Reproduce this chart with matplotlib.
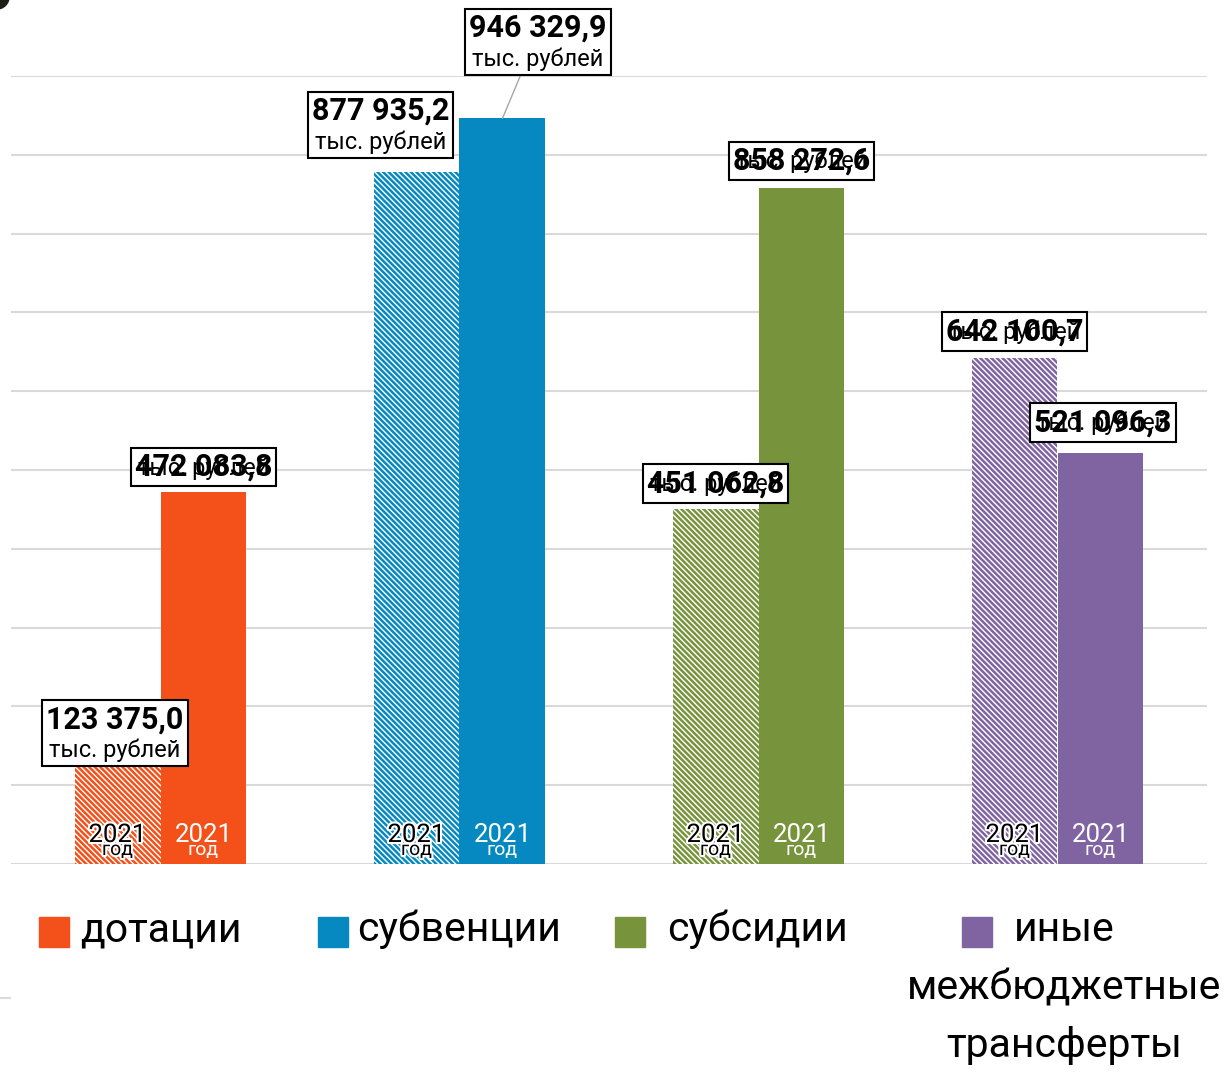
import numpy as np
import matplotlib
matplotlib.use("Agg")
import matplotlib.pyplot as plt
from matplotlib import patches, transforms
from matplotlib.offsetbox import TextArea, VPacker, AnnotationBbox
import matplotlib.patheffects as pe

plt.rcParams['font.family'] = ['Roboto', 'DejaVu Sans']
plt.rcParams['hatch.linewidth'] = 1.8

# ---- data ----
categories = ["дотации", "субвенции", "субсидии", "иные\nмежбюджетные\nтрансферты"]
values_prev = [123375.0, 877935.2, 451062.8, 642100.7]   # hatched bars
values_curr = [472083.8, 946329.9, 858272.6, 521096.3]   # solid bars
year_labels = ["2021", "2021"]
year_word = "год"
unit_label = "тыс. рублей"
colors = ["#F4511A", "#0589C0", "#77933C", "#8064A2"]

W, H = 1226, 1078
fig = plt.figure(figsize=(W / 100, H / 100), dpi=100)
ax = fig.add_axes([11 / W, 1 - 864 / H, 1196 / W, 788 / H])

x = np.arange(len(categories))
bw = 0.2876
ymax = 1_000_000

for i in range(len(categories)):
    ax.bar(x[i] - bw / 2, values_prev[i], bw, facecolor="white", edgecolor=colors[i],
           hatch="\\" * 6, linewidth=0, zorder=2)
    ax.bar(x[i] + bw / 2, values_curr[i], bw, color=colors[i], linewidth=0, zorder=2)

ax.set_xlim(-0.5, len(categories) - 0.5)
ax.set_ylim(0, ymax)
ax.set_yticks(np.arange(0, ymax + 1, 100000))
ax.set_xticks([])
ax.tick_params(left=False, labelleft=False)
ax.yaxis.grid(True, color="#D9D9D9", linewidth=1.5)
ax.set_axisbelow(True)
for s in ax.spines.values():
    s.set_visible(False)


def offs(dx, dy):
    return transforms.offset_copy(ax.transData, fig=fig, x=dx, y=dy, units="dots")


def fmt(v):
    return f"{v:,.1f}".replace(",", " ").replace(".", ",")


# year labels inside bars
glow = [pe.withStroke(linewidth=3, foreground="white")]
for i in range(len(categories)):
    for xpos, col, eff, yl in ((x[i] - bw / 2, "black", glow, year_labels[0]),
                              (x[i] + bw / 2, "white", None, year_labels[1])):
        ax.text(xpos, 0, yl, transform=offs(0, 22), ha="center", va="baseline",
                fontsize=18.5, color=col, path_effects=eff, zorder=3)
        ax.text(xpos, 0, year_word, transform=offs(0, 9), ha="center", va="baseline",
                fontsize=14, color=col, path_effects=eff, zorder=3)

# value labels
off_prev = [(-2.5, 33.5), (-36, 47.5), (0, 25), (0, 26.5)]
off_curr = [(0, 25), (35.5, 76.5), (0, 27), (2.5, 31)]
stack_prev = [True, True, False, False]
stack_curr = [False, True, False, False]

bold = dict(fontsize=22, fontweight="bold", color="black")
norm = dict(fontsize=17, color="black")


def label(xpos, val, off, stacked):
    dx, dy = off
    if stacked:
        box = VPacker(children=[TextArea(fmt(val), textprops=bold),
                                TextArea(unit_label, textprops=norm)],
                      align="center", pad=0, sep=3)
        pad = 0.35
    else:
        box = TextArea(fmt(val), textprops=bold)
        pad = 0.25
    ab = AnnotationBbox(box, (xpos, val), xybox=(xpos, val), xycoords="data",
                        boxcoords=offs(dx, dy), box_alignment=(0.5, 0.5),
                        frameon=True, pad=pad,
                        bboxprops=dict(boxstyle="square", ec="black", lw=1.5, fc="white"),
                        zorder=5)
    ax.add_artist(ab)
    if not stacked:
        ax.text(xpos, val, unit_label, transform=offs(dx, dy - 1), ha="center", va="center",
                fontsize=17, color="black", zorder=6)


for i in range(len(categories)):
    label(x[i] - bw / 2, values_prev[i], off_prev[i], stack_prev[i])
    label(x[i] + bw / 2, values_curr[i], off_curr[i], stack_curr[i])

# leader line for the tall label
ax.annotate("", xy=(x[1] + bw / 2, values_curr[1]), xycoords="data",
            xytext=(13, 31), textcoords="offset points",
            arrowprops=dict(arrowstyle="-", color="#A6A6A6", lw=1, shrinkA=0, shrinkB=0),
            zorder=4)

# legend (manual)
sq_x = [39, 318, 615, 962]
txt_x = [80, 357, 667, 1064]
for i, cat in enumerate(categories):
    fig.patches.append(patches.Rectangle((sq_x[i] / W, 1 - 947 / H), 30 / W, 30 / H,
                                         transform=fig.transFigure, color=colors[i]))
    lines = cat.split("\n")
    if len(lines) > 1:
        for k, ln in enumerate(lines):
            fig.text(txt_x[i] / W, 1 - (941 + 58 * k) / H, ln, ha="center", va="baseline",
                     fontsize=29.5, color="black")
    else:
        fig.text(txt_x[i] / W, 1 - 941 / H, cat, ha="left", va="baseline", fontsize=29.5,
                 color="black")

# decorations
fig.patches.append(patches.Ellipse((-3 / W, 1 + 3 / H), 24 / W, 24 / H,
                                   transform=fig.transFigure, color="#1E1E14"))
fig.lines.append(plt.Line2D([0, 10 / W], [1 - 998 / H, 1 - 998 / H],
                            transform=fig.transFigure, color="#D9D9D9", lw=1.5))

fig.savefig("out.png", dpi=100)
